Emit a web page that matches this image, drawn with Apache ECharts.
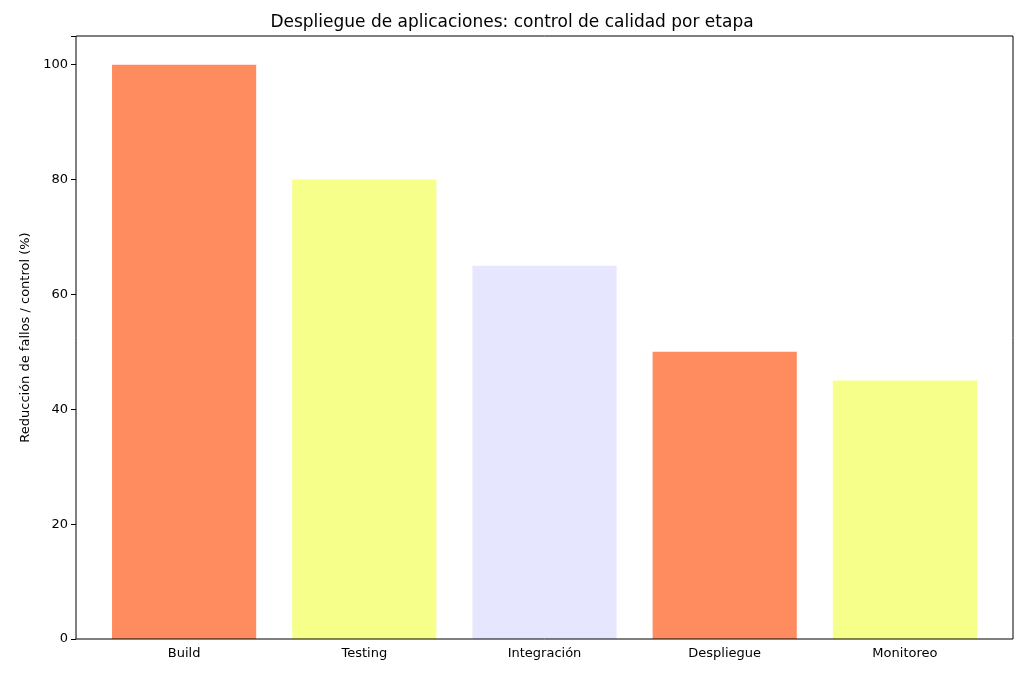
<!DOCTYPE html>
<html><head><meta charset="utf-8">
<script src="https://cdn.jsdelivr.net/npm/echarts@6/dist/echarts.min.js"></script>
<style>html,body{margin:0;padding:0;background:#fff}#c{width:1024px;height:679px}</style>
</head><body><div id="c"></div>
<script>
const categories = ['Build','Testing','Integración','Despliegue','Monitoreo'];
const values = [100, 80, 65, 50, 45];
const colors = ['#FF8C5F','#F5FF8A','#E6E6FF','#FF8C5F','#F5FF8A'];
const yTicks = [0,20,40,60,80,100];
const chart = echarts.init(document.getElementById('c'));
const font = 'DejaVu Sans';
chart.setOption({
  animation:false,
  textStyle:{fontFamily:font},
  title:{text:'Despliegue de aplicaciones: control de calidad por etapa',left:'center',top:9,
    textStyle:{fontFamily:font,fontSize:17,fontWeight:'normal',color:'#000'}},
  grid:{left:94,top:36,width:901,height:603},
  graphic:[{type:'rect',shape:{x:76,y:36,width:937,height:603},style:{fill:'none',stroke:'#000',lineWidth:1},z:100}],
  xAxis:{type:'category',data:categories,boundaryGap:true,
    axisLine:{show:false},axisTick:{alignWithLabel:true,length:5,lineStyle:{color:'#000'}},
    axisLabel:{color:'#000',fontSize:13,margin:8,fontFamily:font}},
  yAxis:{type:'value',min:0,max:105,interval:20,offset:18,
    name:'Reducción de fallos / control (%)',nameLocation:'middle',nameGap:40,
    nameTextStyle:{color:'#000',fontSize:13,fontFamily:font},
    splitLine:{show:false},axisLine:{show:false},
    axisTick:{show:true,length:5,lineStyle:{color:'#000'}},
    axisLabel:{color:'#000',fontSize:13,fontFamily:font,
      formatter:v=>yTicks.includes(v)?String(v):''}},
  series:[{type:'bar',barWidth:'80%',
    data:values.map((v,i)=>({value:v,itemStyle:{color:colors[i]}}))}]
});
</script></body></html>
